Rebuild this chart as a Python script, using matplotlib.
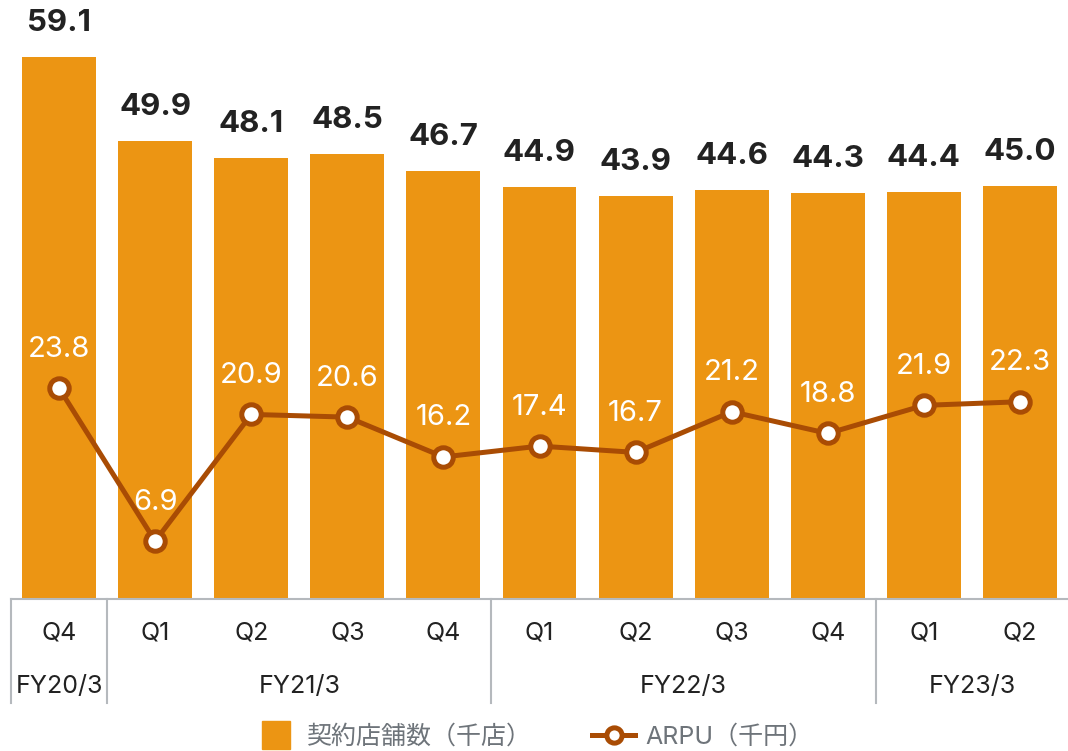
import matplotlib
matplotlib.use("Agg")
import matplotlib.pyplot as plt
from matplotlib.lines import Line2D

plt.rcParams['font.family'] = ['Inter', 'Noto Sans CJK JP', 'DejaVu Sans']

quarters = ['Q4', 'Q1', 'Q2', 'Q3', 'Q4', 'Q1', 'Q2', 'Q3', 'Q4', 'Q1', 'Q2']
stores = [59.1, 49.9, 48.1, 48.5, 46.7, 44.9, 43.9, 44.6, 44.3, 44.4, 45.0]
arpu = [23.8, 6.9, 20.9, 20.6, 16.2, 17.4, 16.7, 21.2, 18.8, 21.9, 22.3]
years = ['FY20/3', 'FY21/3', 'FY22/3', 'FY23/3']
year_spans = [(0, 0), (1, 4), (5, 8), (9, 10)]

BAR = '#EC9513'
LINE = '#A94C04'

fig = plt.figure(figsize=(10.68, 7.51), dpi=100)
ax = fig.add_axes([11/1068, 152/751, 1057/1068, 599/751])
x = list(range(len(quarters)))

ax.bar(x, stores, width=0.77, color=BAR, zorder=1)
for xi, v in zip(x, stores):
    ax.annotate(f'{v:.1f}', (xi, v), xytext=(0, 20), textcoords='offset pixels',
                ha='center', va='bottom', fontsize=22.5, fontweight='bold', color='#222222')

ax.set_xlim(-0.5, 10.5)
ax.set_ylim(0, 65.3)
ax.axis('off')

# ARPU on its own scale
ax2 = ax.twinx()
ax2.set_ylim(0.5, 66.7)
ax2.axis('off')
ax2.plot(x, arpu, color=LINE, lw=3.6, marker='o', markersize=14,
         markerfacecolor='white', markeredgecolor=LINE, markeredgewidth=3.6, zorder=3)
for xi, v in zip(x, arpu):
    ax2.annotate(f'{v:.1f}', (xi, v), xytext=(0, 39), textcoords='offset pixels',
                 ha='center', va='center', fontsize=21, color='white')

# category axis below the plot
base = ax.transAxes
ax.plot([0, 1], [0, 0], transform=base, color='#b5b9bd', lw=1.5, clip_on=False)
def xfrac(v):
    return (v + 0.5) / 11
for b in [-0.5, 0.5, 4.5, 8.5]:
    ax.plot([xfrac(b), xfrac(b)], [0, -104/599], transform=base, color='#b5b9bd',
            lw=1.5, clip_on=False)
for xi, q in zip(x, quarters):
    ax.text(xfrac(xi), -34/599, q, transform=base, ha='center', va='center',
            fontsize=18, color='#222222')
for yr, (a, b) in zip(years, year_spans):
    ax.text(xfrac((a + b) / 2), -87/599, yr, transform=base, ha='center', va='center',
            fontsize=18, color='#222222')

handles = [Line2D([], [], marker='s', markersize=20, color=BAR, linestyle='none'),
           Line2D([0], [0], color=LINE, lw=3.6, marker='o', markersize=11,
                  markerfacecolor='white', markeredgecolor=LINE, markeredgewidth=3.6)]
fig.legend(handles, ['契約店舗数（千店）', 'ARPU（千円）'], loc='center',
           bbox_to_anchor=(0.5, 14/751), ncol=2, frameon=False, fontsize=18,
           labelcolor='#6e747a', handlelength=1.7, columnspacing=2.4, handletextpad=0.4)

fig.savefig('out.png', dpi=100)
